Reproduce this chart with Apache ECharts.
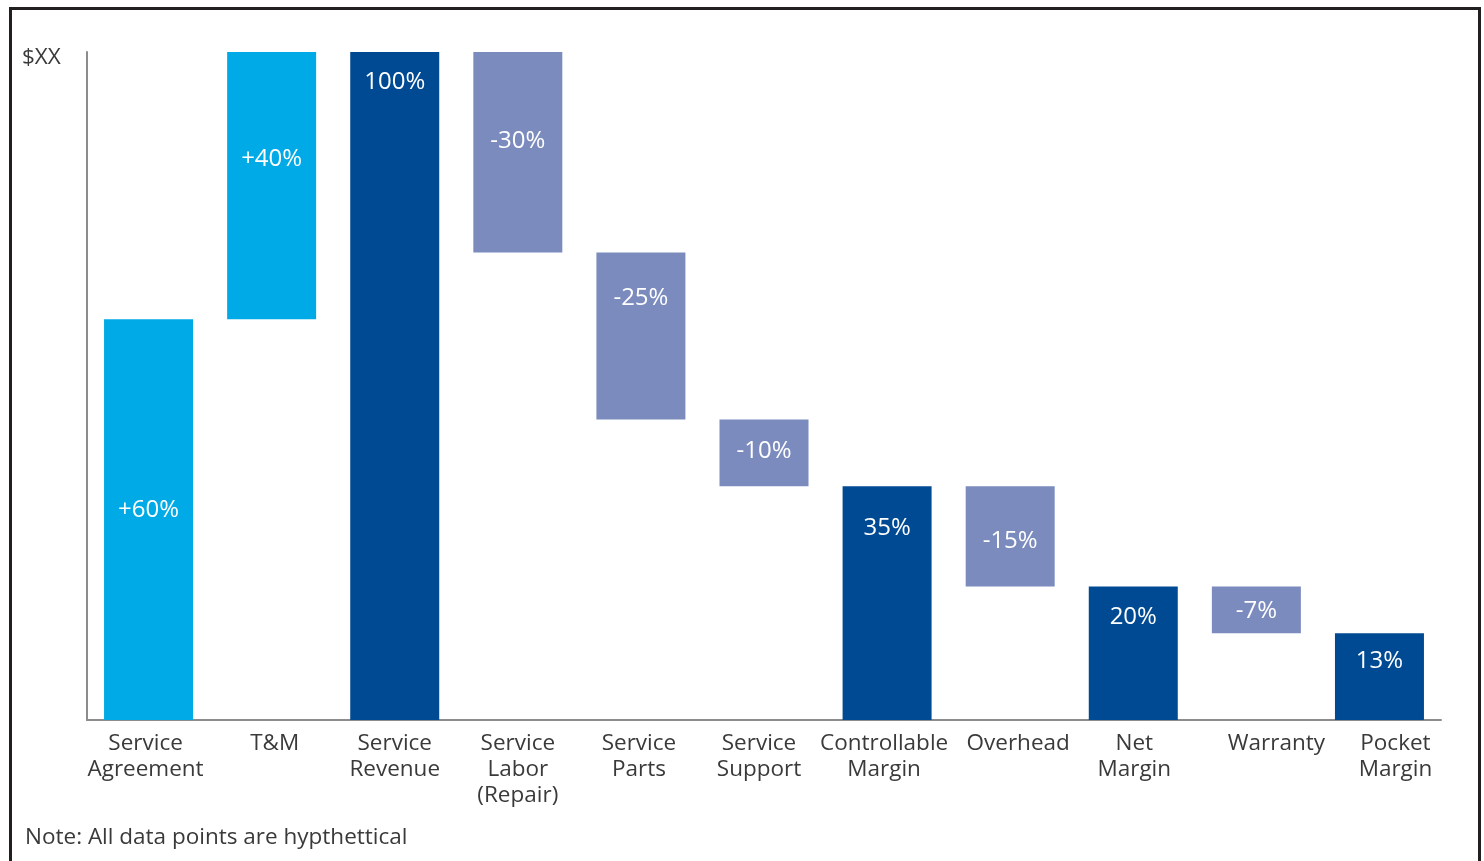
<!DOCTYPE html>
<html>
<head>
<meta charset="utf-8">
<script src="https://cdn.jsdelivr.net/npm/echarts@6/dist/echarts.min.js"></script>
<style>
html,body{margin:0;padding:0;background:#fff;}
#chart{width:1484px;height:861px;}
</style>
</head>
<body>
<div id="chart"></div>
<script>
// ---- data ----
var categories = ['Service\nAgreement', 'T&M', 'Service\nRevenue', 'Service\nLabor\n(Repair)', 'Service\nParts', 'Service\nSupport', 'Controllable\nMargin', 'Overhead', 'Net\nMargin', 'Warranty', 'Pocket\nMargin'];
var values = [60, 40, 100, -30, -25, -10, 35, -15, 20, -7, 13];
var kinds = ['add', 'add', 'total', 'sub', 'sub', 'sub', 'total', 'sub', 'total', 'sub', 'total'];
var labels = ['+60%', '+40%', '100%', '-30%', '-25%', '-10%', '35%', '-15%', '20%', '-7%', '13%'];
var yAxisTitle = '$XX';
var note = 'Note: All data points are hypthettical';

// ---- styling ----
var colors = { add: '#00AAE6', total: '#004A93', sub: '#7B8BBE' };
var labelDistance = [179, 95, 18, 77, 34, 20, 30, 43, 19, 13, 16];
var catShift = [-3, 3, 0, 0, -2, -5, -3, 8, 1, 20, 16];
var FONT = '"Open Sans", "Noto Sans", sans-serif';

// build waterfall base/height
var base = [], height = [];
var running = 0;
for (var i = 0; i < values.length; i++) {
  var v = values[i];
  if (kinds[i] === 'total') {
    base.push(0); height.push(v); running = v;
  } else if (v >= 0) {
    base.push(running); height.push(v); running += v;
  } else {
    running += v; base.push(running); height.push(-v);
  }
}

var barData = height.map(function (h, i) {
  return {
    value: h,
    itemStyle: { color: colors[kinds[i]] },
    label: { distance: labelDistance[i] }
  };
});

var catData = categories.map(function (c, i) {
  var s = catShift[i];
  return {
    value: c,
    textStyle: { padding: s >= 0 ? [0, 0, 0, 2 * s] : [0, -2 * s, 0, 0] }
  };
});

var chart = echarts.init(document.getElementById('chart'), null, { renderer: 'canvas' });
chart.setOption({
  animation: false,
  backgroundColor: '#ffffff',
  grid: { left: 87, right: 43, top: 52, bottom: 141, containLabel: false },
  xAxis: {
    type: 'category',
    data: catData,
    axisLine: { show: true, lineStyle: { color: '#8c8c8c', width: 2 } },
    axisTick: { show: false },
    axisLabel: {
      interval: 0, margin: 11, color: '#3a3a3a',
      fontFamily: FONT, fontSize: 22.5, lineHeight: 26
    }
  },
  yAxis: {
    type: 'value', min: 0, max: 100,
    axisLine: { show: true, lineStyle: { color: '#8c8c8c', width: 2 } },
    axisTick: { show: false },
    axisLabel: { show: false },
    splitLine: { show: false }
  },
  series: [
    {
      type: 'bar', stack: 'wf', barWidth: 89,
      itemStyle: { color: 'transparent' },
      emphasis: { disabled: true },
      data: base
    },
    {
      type: 'bar', stack: 'wf', barWidth: 89,
      label: {
        show: true, position: 'insideTop', color: '#ffffff',
        fontFamily: FONT, fontSize: 24,
        formatter: function (p) { return labels[p.dataIndex]; }
      },
      data: barData
    }
  ],
  graphic: [
    {
      type: 'rect', left: 8, top: 6, silent: true,
      shape: { x: 0, y: 0, width: 1469, height: 880 },
      style: { fill: 'none', stroke: '#231f20', lineWidth: 3 }
    },
    {
      type: 'text', left: 22, top: 46,
      style: { text: yAxisTitle, fill: '#3a3a3a', font: '22.5px ' + FONT }
    },
    {
      type: 'text', left: 25, top: 826,
      style: { text: note, fill: '#3a3a3a', font: '22.5px ' + FONT }
    }
  ]
});
</script>
</body>
</html>
